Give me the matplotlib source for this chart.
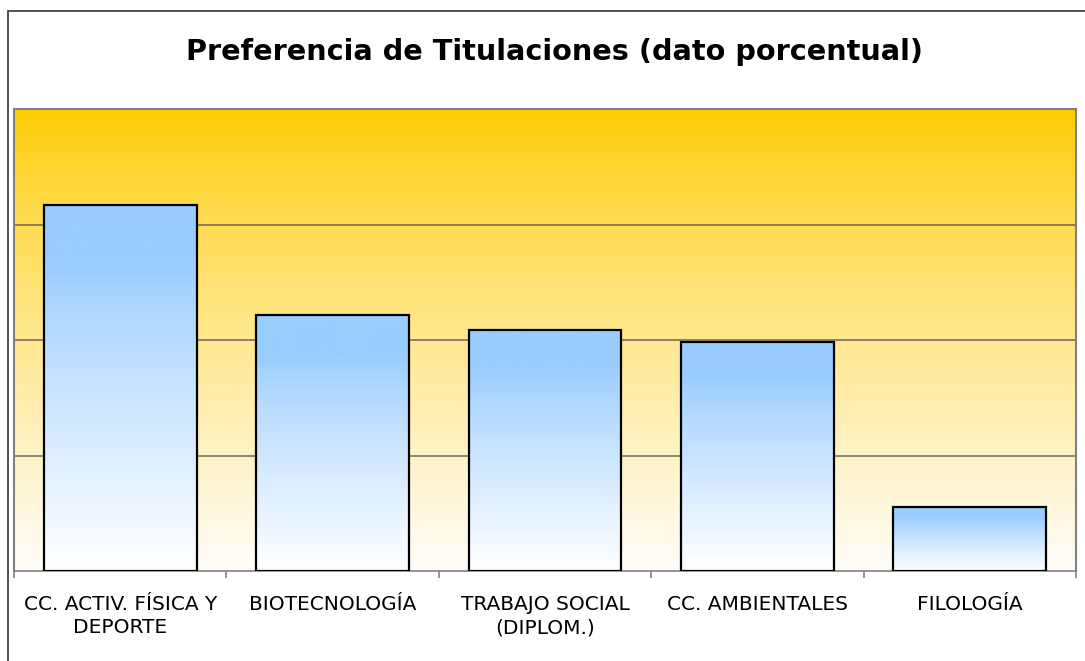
import matplotlib.pyplot as plt
import numpy as np
from matplotlib.patches import Rectangle

categories = ["CC. ACTIV. FÍSICA Y\nDEPORTE", "BIOTECNOLOGÍA", "TRABAJO SOCIAL\n(DIPLOM.)",
              "CC. AMBIENTALES", "FILOLOGÍA"]
values = [31.7, 22.2, 20.9, 19.8, 5.5]
title = "Preferencia de Titulaciones (dato porcentual)"

W, H = 1085, 661
fig = plt.figure(figsize=(W / 100, H / 100), dpi=100)

# outer frame (right / bottom edges fall outside the picture)
fig.patches.append(Rectangle((8 / W, -0.1), 1.2, 1 - 11 / H + 0.1, transform=fig.transFigure,
                             fill=False, edgecolor="#333333", linewidth=1.2))

left, right, top, bottom = 14, 1076, 109, 571
ax = fig.add_axes([left / W, 1 - bottom / H, (right - left) / W, (bottom - top) / H])
n = len(values)

# background gradient gold -> white
t = np.linspace(0, 1, 256)[:, None]
w = t ** 0.8
gold = np.array([255, 204, 0]) / 255
white = np.array([255, 253, 250]) / 255
bg = gold * (1 - w[..., None]) + white * w[..., None]
bg = np.repeat(bg, 2, axis=1)
ax.imshow(bg, extent=(-0.5, n - 0.5, 0, 40), aspect="auto", zorder=0)

for y in [10, 20, 30]:
    ax.axhline(y, color="#6b665a", linewidth=1.1, zorder=1)

# bars with blue -> white gradient
blue = np.array([153, 204, 255]) / 255
wb = np.clip((t - 0.15) / 0.85, 0, 1) ** 0.85
grad = blue * (1 - wb[..., None]) + np.array([1, 1, 1]) * wb[..., None]
grad = np.repeat(grad, 2, axis=1)
bars = ax.bar(range(n), values, width=0.72, facecolor="none", edgecolor="black",
              linewidth=1.6, zorder=3)
for b in bars:
    x0, bw, h = b.get_x(), b.get_width(), b.get_height()
    ax.imshow(grad, extent=(x0, x0 + bw, 0, h), aspect="auto", zorder=2)
ax.set_xlim(-0.5, n - 0.5)
ax.set_ylim(0, 40)

for s in ["top", "right", "left"]:
    ax.spines[s].set_color("#808080")
    ax.spines[s].set_linewidth(1.5)
ax.spines["bottom"].set_color("#808080")
ax.spines["bottom"].set_linewidth(1.2)

ax.set_yticks([])
ax.set_xticks(np.arange(-0.5, n, 1.0))
ax.set_xticklabels([])
ax.tick_params(axis="x", direction="out", length=5, color="#808080", width=1.2)
ax.set_xticks(range(n), minor=True)
ax.set_xticklabels(categories, minor=True, fontsize=14.5, linespacing=1.32,
                   family="DejaVu Sans")
ax.tick_params(axis="x", which="minor", length=0, pad=17)

fig.text(555 / W, 1 - 52 / H, title, ha="center", va="center", fontsize=20.7,
         fontweight="bold", family="DejaVu Sans")

fig.savefig("out.png", dpi=100)
